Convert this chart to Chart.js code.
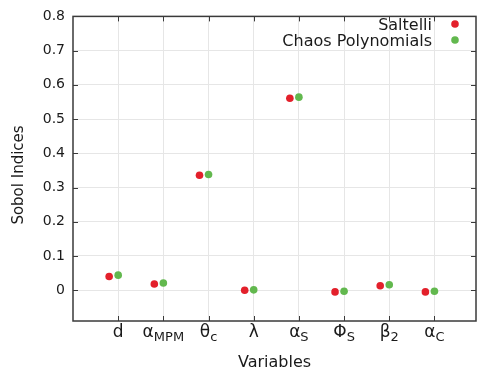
<!DOCTYPE html>
<html><head><meta charset="utf-8">
<script src="https://cdn.jsdelivr.net/npm/chart.js@4/dist/chart.umd.min.js"></script>
<style>html,body{margin:0;padding:0;background:#fff;overflow:hidden}#wrap{width:480px;height:376px;position:relative}</style>
</head><body><div id="wrap"><canvas id="c"></canvas></div>
<script>
// ---- data ----
const labelMain = ['d', 'α', 'θ', 'λ', 'α', 'Φ', 'β', 'α'];
const labelSub  = ['',  'MPM', 'c', '', 'S', 'S', '2', 'C'];
const saltelli = [0.040, 0.018, 0.336, 0.000, 0.561, -0.005, 0.013, -0.005];
const chaos    = [0.044, 0.021, 0.338, 0.001, 0.564, -0.003, 0.016, -0.003];
const yTicks   = [0, 0.1, 0.2, 0.3, 0.4, 0.5, 0.6, 0.7, 0.8];
const seriesNames = ['Saltelli', 'Chaos Polynomials'];
const yTitle = 'Sobol Indices';
const xTitle = 'Variables';

const FONT = "'DejaVu Sans', sans-serif";
const RED = '#e3202b', GREEN = '#62b84e';
const SHIFT = [-0.2, 0];

const toPts = (arr, s) => arr.map((v, i) => ({x: i + 1 + s, y: v}));

const framePlugin = {
  id: 'frame',
  afterDraw(chart) {
    const {ctx, chartArea: a, scales: {x, y}} = chart;
    ctx.save();
    // frame
    ctx.strokeStyle = '#3a3a3a';
    ctx.lineWidth = 1.5;
    ctx.strokeRect(a.left, a.top, a.right - a.left, a.bottom - a.top);
    // inward ticks
    ctx.lineWidth = 1;
    ctx.beginPath();
    yTicks.forEach(v => {
      const py = Math.round(y.getPixelForValue(v)) + 0.5;
      ctx.moveTo(a.left, py); ctx.lineTo(a.left + 5, py);
      ctx.moveTo(a.right, py); ctx.lineTo(a.right - 5, py);
    });
    labelMain.forEach((_, i) => {
      const px = Math.round(x.getPixelForValue(i + 1)) + 0.5;
      ctx.moveTo(px, a.bottom); ctx.lineTo(px, a.bottom - 5);
      ctx.moveTo(px, a.top); ctx.lineTo(px, a.top + 5);
    });
    ctx.stroke();
    // x tick labels with subscripts
    ctx.fillStyle = '#1a1a1a';
    ctx.textBaseline = 'alphabetic';
    ctx.textAlign = 'left';
    labelMain.forEach((m, i) => {
      const px = x.getPixelForValue(i + 1);
      ctx.font = '17px ' + FONT;
      const wm = ctx.measureText(m).width;
      ctx.font = '13px ' + FONT;
      const ws = ctx.measureText(labelSub[i]).width;
      const start = px - (wm + ws) / 2;
      ctx.font = '17px ' + FONT;
      ctx.fillText(m, start, a.bottom + 16);
      ctx.font = '13px ' + FONT;
      ctx.fillText(labelSub[i], start + wm, a.bottom + 20);
    });
    // y axis title
    ctx.save();
    ctx.translate(19, 175);
    ctx.rotate(-Math.PI / 2);
    ctx.font = '15px ' + FONT;
    ctx.textAlign = 'center';
    ctx.textBaseline = 'middle';
    ctx.fillText(yTitle, 0, 0);
    ctx.restore();
    // legend
    ctx.font = '16px ' + FONT;
    ctx.textAlign = 'right';
    ctx.textBaseline = 'alphabetic';
    const colors = [RED, GREEN];
    seriesNames.forEach((n, k) => {
      const yy = 24 + k * 16;
      ctx.fillStyle = '#1a1a1a';
      ctx.fillText(n, 432, yy + 6);
      ctx.fillStyle = colors[k];
      ctx.beginPath(); ctx.arc(455, yy, 3.8, 0, Math.PI * 2); ctx.fill();
    });
    ctx.restore();
  }
};

new Chart(document.getElementById('c'), {
  type: 'scatter',
  data: {
    datasets: [
      {label: seriesNames[0], data: toPts(saltelli, SHIFT[0]), backgroundColor: RED, borderColor: RED, pointRadius: 3.8, borderWidth: 0},
      {label: seriesNames[1], data: toPts(chaos, SHIFT[1]), backgroundColor: GREEN, borderColor: GREEN, pointRadius: 3.8, borderWidth: 0}
    ]
  },
  options: {
    responsive: true,
    maintainAspectRatio: false,
    animation: false,
    layout: {padding: {top: 12, right: 1, left: 0, bottom: 0}},
    plugins: {legend: {display: false}, tooltip: {enabled: false}},
    scales: {
      x: {
        type: 'linear', min: 0, max: 8.92,
        afterBuildTicks: s => { s.ticks = labelMain.map((_, i) => ({value: i + 1})); },
        afterFit: s => { s.height = 55; },
        ticks: {display: false},
        grid: {color: '#e6e6e6', drawTicks: false},
        border: {display: false},
        title: {display: true, text: xTitle, color: '#1a1a1a', font: {family: FONT, size: 16}, padding: {top: 0, bottom: 4}}
      },
      y: {
        min: -0.09, max: 0.8,
        afterBuildTicks: s => { s.ticks = yTicks.map(v => ({value: v})); },
        afterFit: s => { s.width = 73; },
        ticks: {color: '#1a1a1a', font: {family: FONT, size: 14}, padding: 8,
                callback: v => v === 0 ? '0' : v.toFixed(1)},
        grid: {color: '#e6e6e6', drawTicks: false},
        border: {display: false},
        title: {display: false}
      }
    }
  },
  plugins: [framePlugin]
});
</script>
</body></html>
